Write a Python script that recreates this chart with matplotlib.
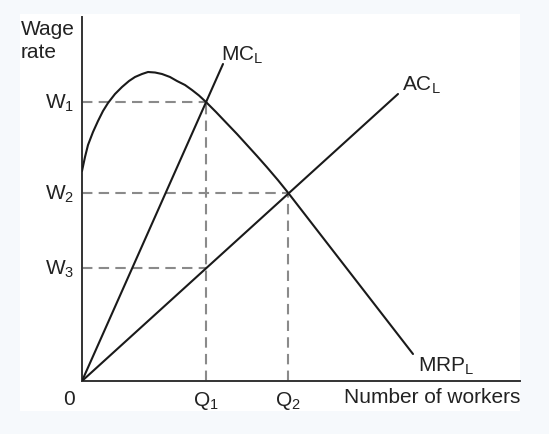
import matplotlib
matplotlib.use('Agg')
import matplotlib.pyplot as plt
from matplotlib.patches import Rectangle

plt.rcParams['font.family'] = 'Liberation Sans'
plt.rcParams['mathtext.fontset'] = 'custom'
plt.rcParams['mathtext.rm'] = 'Liberation Sans'
plt.rcParams['mathtext.it'] = 'Liberation Sans'

# wage levels and quantities (pixel-ish units from origin)
w_levels = [279, 188, 113]
w_labels = [r'W$_\mathregular{1}$', r'W$_\mathregular{2}$', r'W$_\mathregular{3}$']
q_levels = [124, 206]
q_labels = [r'Q$_\mathregular{1}$', r'Q$_\mathregular{2}$']

# curves
mrp_x = [0, 3, 6, 11, 16, 21, 26, 33, 40, 47, 53, 60, 66, 73, 80, 88, 95,
         103, 110, 117, 124, 134, 144, 155, 165, 175, 185, 196, 206, 331]
mrp_y = [210, 224, 236, 249, 260, 270, 278, 287, 294, 300, 304, 307, 309,
         308.5, 307, 304, 300, 296, 291, 285.5, 279, 269, 258.5, 247, 236,
         225, 213.7, 200.8, 188.4, 27]
mc_x = [0, 141]
mc_y = [0, 317]
ac_x = [0, 316]
ac_y = [0, 287]

W, H = 549, 435
fig = plt.figure(figsize=(W / 100, H / 100), dpi=100)
fig.patch.set_facecolor('#f6f9fc')
bg = Rectangle((20 / W, 1 - 412 / H), 500 / W, 397 / H,
               transform=fig.transFigure, facecolor='white', edgecolor='none')
bg.set_zorder(-5)
fig.add_artist(bg)

x0, y0 = 82, 382
ax = fig.add_axes([x0 / W, 1 - y0 / H, 438 / W, 364 / H])
ax.set_zorder(5)
ax.set_xlim(0, 438)
ax.set_ylim(0, 364)
ax.patch.set_alpha(0)
for s in ['top', 'right']:
    ax.spines[s].set_visible(False)
for s in ['left', 'bottom']:
    ax.spines[s].set_color('#333333')
    ax.spines[s].set_linewidth(1.4)
ax.set_xticks([])
ax.set_yticks([])

dash = dict(color='#8a8a8a', lw=1.5, dashes=(5, 3), zorder=1)
# W1 and W3 go across to Q1, W2 to Q2
ax.plot([0, q_levels[0]], [w_levels[0]] * 2, **dash)
ax.plot([0, q_levels[1]], [w_levels[1]] * 2, **dash)
ax.plot([0, q_levels[0]], [w_levels[2]] * 2, **dash)
ax.plot([q_levels[0]] * 2, [0, w_levels[0]], **dash)
ax.plot([q_levels[1]] * 2, [0, w_levels[1]], **dash)

line = dict(color='#1a1a1a', lw=1.5, zorder=3, solid_capstyle='round',
            solid_joinstyle='round')
ax.plot(mrp_x, mrp_y, **line)
ax.plot(mc_x, mc_y, **line)
ax.plot(ac_x, ac_y, **line)

fs = 15
tc = '#222222'
for w, lab in zip(w_levels, w_labels):
    ax.text(-8, w, lab, ha='right', va='center', fontsize=fs, color=tc)
for q, lab in zip(q_levels, q_labels):
    ax.text(q, -19, lab, ha='center', va='center', fontsize=fs, color=tc)
ax.text(-13, -18, '0', ha='center', va='center', fontsize=fs, color=tc)

ax.text(-61, 362, 'Wage\nrate', ha='left', va='top', fontsize=fs,
        color=tc, linespacing=1.25, clip_on=False)
ax.text(438, -16, 'Number of workers', ha='right', va='center', fontsize=fs, color=tc)
ax.text(mc_x[-1] - 2, 327, r'MC$_\mathregular{L}$', ha='left', va='center', fontsize=fs, color=tc)
ax.text(ac_x[-1] + 4, 297, r'AC$_\mathregular{L}$', ha='left', va='center', fontsize=fs, color=tc)
ax.text(mrp_x[-1] + 5, 16, r'MRP$_\mathregular{L}$', ha='left', va='center', fontsize=fs, color=tc)

fig.savefig('out.png', dpi=100, facecolor=fig.get_facecolor())
